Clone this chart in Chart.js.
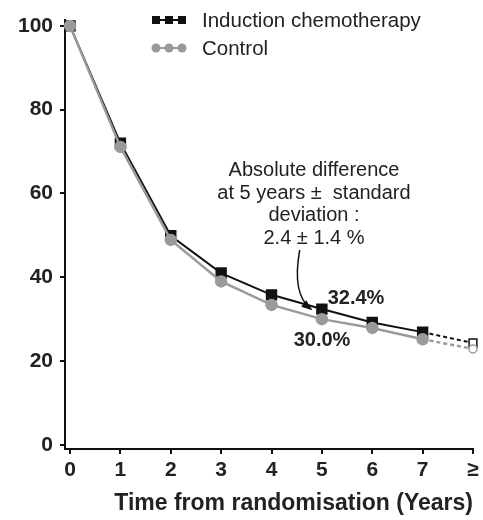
<!DOCTYPE html>
<html>
<head>
<meta charset="utf-8">
<script src="https://cdn.jsdelivr.net/npm/chart.js@4"></script>
<style>
  html, body { margin: 0; padding: 0; background: #fff; }
  #wrap { width: 483px; height: 520px; }
</style>
</head>
<body>
<div id="wrap"><canvas id="survivalChart" width="483" height="520"></canvas></div>
<script>
// time points (years from randomisation)
const categories = ['0', '1', '2', '3', '4', '5', '6', '7', '\u2265'];
const inductionValues = [100, 72.0, 49.9, 41.0, 35.8, 32.4, 29.2, 26.9, 24.3];
const controlValues = [100, 71.1, 48.9, 39.0, 33.4, 30.0, 27.9, 25.2, 22.9];
const yTicks = [0, 20, 40, 60, 80, 100];
const legendLabels = ['Induction chemotherapy', 'Control'];
const noteLines = ['Absolute difference', 'at 5 years \u00b1  standard', 'deviation :', '2.4 \u00b1 1.4 %'];

const BLACK = '#111111';
const GREY = '#9a9a9a';
const TEXT = '#222222';
const FONT = '"Liberation Sans", Arial, sans-serif';
const last = categories.length - 1;

function toPoints(values) {
    return values.map((v, i) => ({ x: i, y: v }));
}

// legend, annotation text and arrow
const extras = {
    id: 'extras',
    afterDraw(chart) {
        const ctx = chart.ctx;
        const xs = chart.scales.x, ys = chart.scales.y;
        ctx.save();

        // legend markers
        const markers = [
            { y: 20, color: BLACK, shape: 'rect' },
            { y: 48, color: GREY, shape: 'circle' }
        ];
        markers.forEach((m, k) => {
            ctx.strokeStyle = m.color;
            ctx.fillStyle = m.color;
            ctx.lineWidth = 2;
            ctx.beginPath();
            ctx.moveTo(153, m.y);
            ctx.lineTo(185, m.y);
            ctx.stroke();
            [156, 169, 182].forEach(cx => {
                ctx.beginPath();
                if (m.shape === 'rect') ctx.rect(cx - 4, m.y - 4, 8, 8);
                else ctx.arc(cx, m.y, 4.5, 0, Math.PI * 2);
                ctx.fill();
            });
            ctx.fillStyle = TEXT;
            ctx.font = '20.5px ' + FONT;
            ctx.textAlign = 'left';
            ctx.textBaseline = 'middle';
            ctx.fillText(legendLabels[k], 202, m.y + 1);
        });

        // note text
        ctx.fillStyle = TEXT;
        ctx.font = '20px ' + FONT;
        ctx.textAlign = 'center';
        ctx.textBaseline = 'middle';
        [170, 193, 215, 238].forEach((y, i) => ctx.fillText(noteLines[i], 314, y));

        // value labels at 5 years
        ctx.font = 'bold 20px ' + FONT;
        ctx.fillText(inductionValues[5].toFixed(1) + '%', 356, 298);
        ctx.fillText(controlValues[5].toFixed(1) + '%', 322, 340);

        // curved arrow
        const sx = xs.getPixelForValue(4.56), sy = ys.getPixelForValue(46.5);
        const cx = xs.getPixelForValue(4.40), cy = ys.getPixelForValue(36);
        const tx = xs.getPixelForValue(4.78), ty = ys.getPixelForValue(32.4);
        ctx.strokeStyle = BLACK;
        ctx.lineWidth = 1.5;
        ctx.beginPath();
        ctx.moveTo(sx, sy);
        ctx.quadraticCurveTo(cx, cy, tx, ty);
        ctx.stroke();
        const ang = Math.atan2(ty - cy, tx - cx);
        ctx.fillStyle = BLACK;
        ctx.beginPath();
        ctx.moveTo(tx + 2 * Math.cos(ang), ty + 2 * Math.sin(ang));
        ctx.lineTo(tx - 9 * Math.cos(ang) + 4 * Math.sin(ang), ty - 9 * Math.sin(ang) - 4 * Math.cos(ang));
        ctx.lineTo(tx - 9 * Math.cos(ang) - 4 * Math.sin(ang), ty - 9 * Math.sin(ang) + 4 * Math.cos(ang));
        ctx.closePath();
        ctx.fill();

        ctx.restore();
    }
};

const dashLast = ctx => ctx.p1DataIndex === last ? [4, 3] : undefined;

const ctx = document.getElementById('survivalChart').getContext('2d');
const survivalChart = new Chart(ctx, {
    type: 'line',
    data: {
        datasets: [{
            label: legendLabels[1],
            data: toPoints(controlValues),
            clip: false,
            borderColor: GREY,
            borderWidth: 2.5,
            pointStyle: 'circle',
            pointRadius: controlValues.map((v, i) => i === last ? 4 : 5.5),
            pointBackgroundColor: controlValues.map((v, i) => i === last ? '#fff' : GREY),
            pointBorderColor: GREY,
            pointBorderWidth: 1.5,
            segment: { borderDash: dashLast }
        }, {
            label: legendLabels[0],
            data: toPoints(inductionValues),
            clip: false,
            borderColor: BLACK,
            borderWidth: 2,
            pointStyle: 'rect',
            pointRadius: inductionValues.map((v, i) => i === last ? 5.5 : 7),
            pointBackgroundColor: inductionValues.map((v, i) => i === last ? '#fff' : BLACK),
            pointBorderColor: BLACK,
            pointBorderWidth: 1.5,
            segment: { borderDash: dashLast }
        }]
    },
    options: {
        responsive: false,
        animation: false,
        layout: { padding: { top: 19, right: 10, left: 0, bottom: 0 } },
        plugins: {
            legend: { display: false },
            tooltip: { enabled: false }
        },
        scales: {
            x: {
                type: 'linear',
                min: -0.1,
                max: last,
                afterBuildTicks: scale => {
                    scale.ticks = categories.map((c, i) => ({ value: i }));
                },
                afterFit: scale => { scale.height = 71; },
                grid: { drawOnChartArea: false, drawTicks: true, tickLength: 5, color: BLACK, lineWidth: 2 },
                border: { color: BLACK, width: 2 },
                ticks: {
                    padding: 4,
                    color: TEXT,
                    font: { family: FONT, size: 21, weight: 'bold' },
                    callback: v => categories[v]
                },
                title: {
                    display: true,
                    text: 'Time from randomisation (Years)',
                    align: 'end',
                    color: TEXT,
                    font: { family: FONT, size: 23, weight: 'bold' },
                    padding: { top: 0, bottom: 3 }
                }
            },
            y: {
                min: -1,
                max: 101.5,
                afterBuildTicks: scale => {
                    scale.ticks = yTicks.map(v => ({ value: v }));
                },
                afterFit: scale => { scale.width = 65; },
                grid: { drawOnChartArea: false, drawTicks: true, tickLength: 5, color: BLACK, lineWidth: 2 },
                border: { color: BLACK, width: 2 },
                ticks: {
                    padding: 7,
                    color: TEXT,
                    font: { family: FONT, size: 21, weight: 'bold' }
                }
            }
        }
    },
    plugins: [extras]
});
</script>
</body>
</html>
